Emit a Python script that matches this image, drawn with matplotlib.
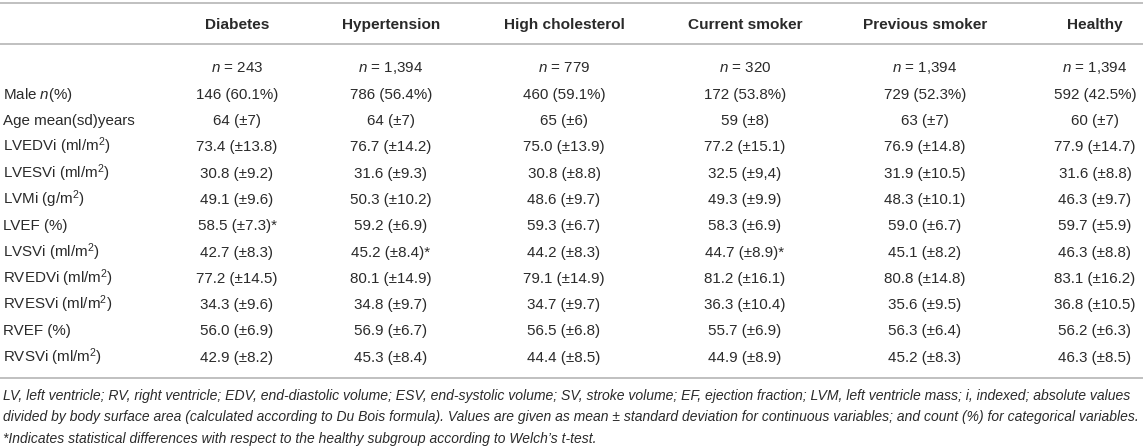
import matplotlib
matplotlib.use("Agg")
import matplotlib.pyplot as plt

plt.rcParams['font.family'] = ['Liberation Sans', 'DejaVu Sans']
plt.rcParams['mathtext.fontset'] = 'custom'
plt.rcParams['mathtext.rm'] = 'Liberation Sans'
plt.rcParams['mathtext.it'] = 'Liberation Sans:italic'
plt.rcParams['mathtext.bf'] = 'Liberation Sans:bold'

# table content
groups = ['Diabetes', 'Hypertension', 'High cholesterol', 'Current smoker',
          'Previous smoker', 'Healthy']
group_n = ['243', '1,394', '779', '320', '1,394', '1,394']

row_labels = ['Male $n$(%)', 'Age mean(sd)years', 'LVEDVi (ml/m$^2$)',
              'LVESVi (ml/m$^2$)', 'LVMi (g/m$^2$)', 'LVEF (%)',
              'LVSVi (ml/m$^2$)', 'RVEDVi (ml/m$^2$)', 'RVESVi (ml/m$^2$)',
              'RVEF (%)', 'RVSVi (ml/m$^2$)']

diabetes = ['146 (60.1%)', '64 (±7)', '73.4 (±13.8)', '30.8 (±9.2)', '49.1 (±9.6)',
            '58.5 (±7.3)*', '42.7 (±8.3)', '77.2 (±14.5)', '34.3 (±9.6)',
            '56.0 (±6.9)', '42.9 (±8.2)']
hypertension = ['786 (56.4%)', '64 (±7)', '76.7 (±14.2)', '31.6 (±9.3)', '50.3 (±10.2)',
                '59.2 (±6.9)', '45.2 (±8.4)*', '80.1 (±14.9)', '34.8 (±9.7)',
                '56.9 (±6.7)', '45.3 (±8.4)']
high_chol = ['460 (59.1%)', '65 (±6)', '75.0 (±13.9)', '30.8 (±8.8)', '48.6 (±9.7)',
             '59.3 (±6.7)', '44.2 (±8.3)', '79.1 (±14.9)', '34.7 (±9.7)',
             '56.5 (±6.8)', '44.4 (±8.5)']
current_smoker = ['172 (53.8%)', '59 (±8)', '77.2 (±15.1)', '32.5 (±9,4)', '49.3 (±9.9)',
                  '58.3 (±6.9)', '44.7 (±8.9)*', '81.2 (±16.1)', '36.3 (±10.4)',
                  '55.7 (±6.9)', '44.9 (±8.9)']
previous_smoker = ['729 (52.3%)', '63 (±7)', '76.9 (±14.8)', '31.9 (±10.5)', '48.3 (±10.1)',
                   '59.0 (±6.7)', '45.1 (±8.2)', '80.8 (±14.8)', '35.6 (±9.5)',
                   '56.3 (±6.4)', '45.2 (±8.3)']
healthy = ['592 (42.5%)', '60 (±7)', '77.9 (±14.7)', '31.6 (±8.8)', '46.3 (±9.7)',
           '59.7 (±5.9)', '46.3 (±8.8)', '83.1 (±16.2)', '36.8 (±10.5)',
           '56.2 (±6.3)', '46.3 (±8.5)']
columns = [diabetes, hypertension, high_chol, current_smoker, previous_smoker, healthy]

footnotes = [
    'LV, left ventricle; RV, right ventricle; EDV, end-diastolic volume; ESV, end-systolic volume; '
    'SV, stroke volume; EF, ejection fraction; LVM, left ventricle mass; i, indexed; absolute values',
    'divided by body surface area (calculated according to Du Bois formula). Values are given as '
    'mean ± standard deviation for continuous variables; and count (%) for categorical variables.',
    '*Indicates statistical differences with respect to the healthy subgroup according to Welch’s t-test.',
]

# layout (pixel coordinates)
W, H = 1143, 446
col_x = [237, 391, 564, 745, 925, 1095]
label_x = 3
right_x = 1137
header_y = 23
first_row_y = 67
row_h = 26.3
fs = 10.9
fs_head = 11.1
fs_note = 10.0
txt_col = '#2a2a2a'
rule_col = '#b5b5b5'

fig = plt.figure(figsize=(W / 100, H / 100), dpi=100)
ax = fig.add_axes([0, 0, 1, 1])
ax.set_xlim(0, W)
ax.set_ylim(H, 0)
ax.axis('off')
renderer = fig.canvas.get_renderer()


def put(x, y, s, size=fs, **kw):
    # y is the visual centre of the text line; draw on baseline
    return ax.text(x, y + 0.5 * size, s, va='baseline', fontsize=size,
                   color=txt_col, **kw)


for rule_y in [3, 43.5, 378]:
    ax.axhline(rule_y, color=rule_col, lw=1.2)

for x, g in zip(col_x, groups):
    put(x, header_y, g, size=fs_head, ha='center', fontweight='bold')

for x, n in zip(col_x, group_n):
    put(x, first_row_y, '$n$ = ' + n, ha='center')

for i, lab in enumerate(row_labels):
    y = first_row_y + (i + 1) * row_h
    put(label_x, y, lab, ha='left')
    for x, col in zip(col_x, columns):
        put(x, y, col[i], ha='center')

# footnote: the first two lines fill the full width (justified block in the source)
for j, line in enumerate(footnotes):
    y = 395 + j * 21.5
    t = put(label_x, y, line, size=fs_note, ha='left', style='italic')
    if j < len(footnotes) - 1:
        w = t.get_window_extent(renderer).width
        t.set_fontsize(fs_note * (right_x - label_x) / w)
        t.set_y(y + 0.5 * fs_note)

fig.savefig('out.png', dpi=100)
